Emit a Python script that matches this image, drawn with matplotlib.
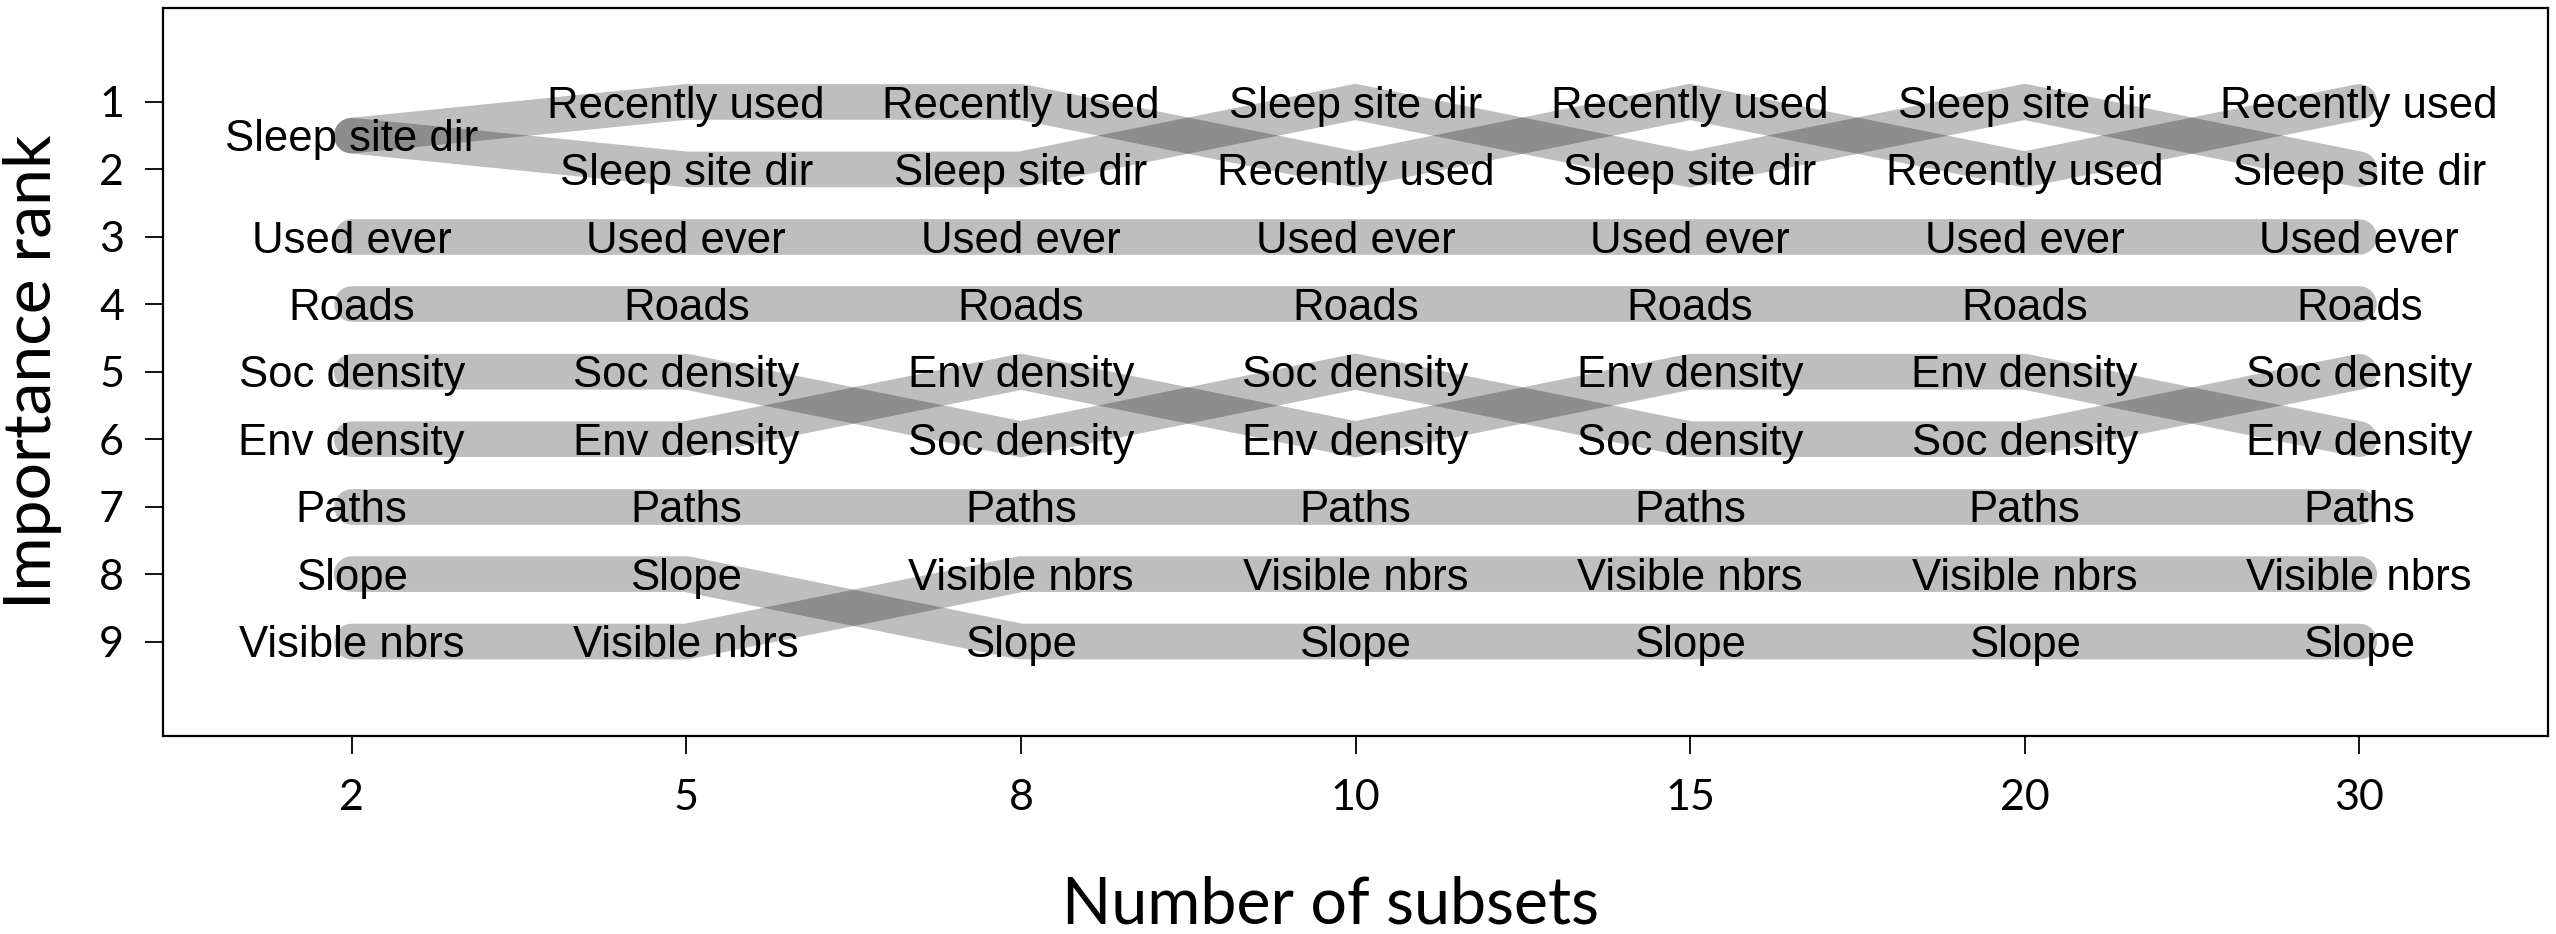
import matplotlib
matplotlib.use("Agg")
import matplotlib.pyplot as plt
from matplotlib.transforms import offset_copy

# ---- data ----
subsets = ["2", "5", "8", "10", "15", "20", "30"]
variables = ["Recently used", "Sleep site dir", "Used ever", "Roads",
             "Soc density", "Env density", "Paths", "Slope", "Visible nbrs"]
rank_recently_used = [1.5, 1, 1, 2, 1, 2, 1]
rank_sleep_site_dir = [1.5, 2, 2, 1, 2, 1, 2]
rank_used_ever = [3, 3, 3, 3, 3, 3, 3]
rank_roads = [4, 4, 4, 4, 4, 4, 4]
rank_soc_density = [5, 5, 6, 5, 6, 6, 5]
rank_env_density = [6, 6, 5, 6, 5, 5, 6]
rank_paths = [7, 7, 7, 7, 7, 7, 7]
rank_slope = [8, 8, 9, 9, 9, 9, 9]
rank_visible_nbrs = [9, 9, 8, 8, 8, 8, 8]
ranks = [rank_recently_used, rank_sleep_site_dir, rank_used_ever, rank_roads,
         rank_soc_density, rank_env_density, rank_paths, rank_slope,
         rank_visible_nbrs]
y_ticks = [1, 2, 3, 4, 5, 6, 7, 8, 9]

W, H = 2556, 934
fig = plt.figure(figsize=(W / 100, H / 100), dpi=100)
L, R, T, B = 163, 2548, 7.5, 736
ax = fig.add_axes([L / W, 1 - B / H, (R - L) / W, (B - T) / H])

xpos = list(range(1, len(subsets) + 1))
for r in ranks:
    ax.plot(xpos, r, color="black", alpha=0.255, lw=25.7,
            solid_capstyle="round", solid_joinstyle="miter", zorder=2)

label_font = "Liberation Sans"
label_size = 31.5
# baseline shifted so that the capitals are centred on the rank line
txt_trans = offset_copy(ax.transData, fig=fig, x=0,
                        y=-0.716 * label_size / 2, units="points")
for j, x in enumerate(xpos):
    placed = {}
    for name, r in zip(variables, ranks):
        placed[r[j]] = name
    for y, name in placed.items():
        ax.text(x, y, name, ha="center", va="baseline", fontsize=label_size,
                family=label_font, color="black", zorder=3,
                transform=txt_trans)

ax.set_xlim(0.436, 7.564)
ax.set_ylim(10.4, -0.4)
ax.set_xticks(xpos)
ax.set_xticklabels(subsets)
ax.set_yticks(y_ticks)
ax.set_yticklabels([str(v) for v in y_ticks])
ax.tick_params(axis="both", length=13, width=1.3, labelsize=31, color="black")
ax.tick_params(axis="x", pad=18)
ax.tick_params(axis="y", pad=15)
for lab in ax.get_xticklabels() + ax.get_yticklabels():
    lab.set_family("Lato")
for s in ax.spines.values():
    s.set_linewidth(1.6)
    s.set_color("black")

fig.text(1330 / W, 1 - 923 / H, "Number of subsets", ha="center",
         va="baseline", fontsize=46.5, family="Lato")
fig.text(33 / W, 1 - 372 / H, "Importance rank", ha="center", va="center",
         rotation=90, fontsize=47.5, family="Lato")

fig.savefig("out.png", dpi=100, facecolor="white")
